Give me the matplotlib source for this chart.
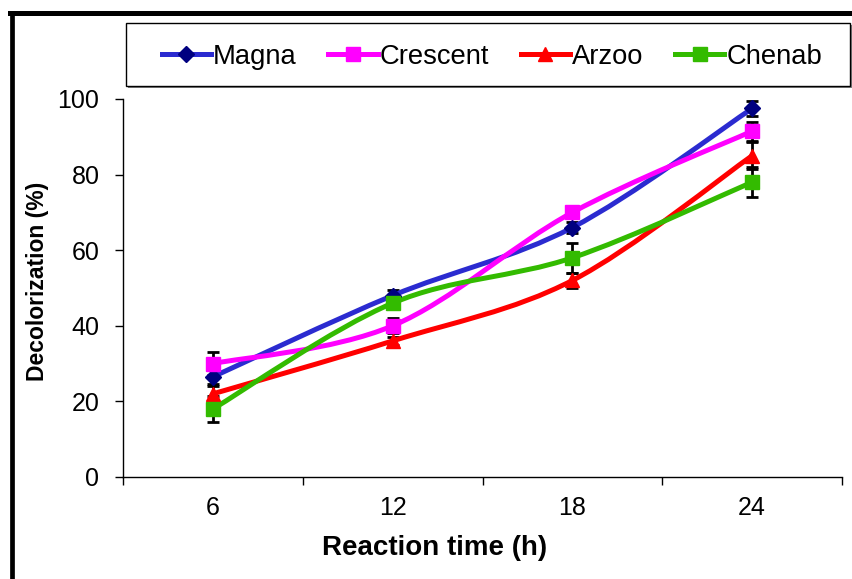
import matplotlib
matplotlib.use("Agg")
import matplotlib.pyplot as plt
from matplotlib.path import Path
from matplotlib.patches import PathPatch, Rectangle
from matplotlib.lines import Line2D
import numpy as np

plt.rcParams['font.family'] = ['Liberation Sans', 'DejaVu Sans']

categories = ["6", "12", "18", "24"]
series_names = ["Magna", "Crescent", "Arzoo", "Chenab"]
magna = [26.5, 48.0, 66.0, 97.5]
crescent = [30.0, 40.0, 70.0, 91.5]
arzoo = [22.0, 36.0, 52.0, 85.0]
chenab = [18.0, 46.0, 58.0, 78.0]
magna_err = [2.0, 1.5, 1.5, 2.0]
crescent_err = [3.0, 2.0, 1.0, 2.5]
arzoo_err = [2.0, 1.0, 2.0, 3.5]
chenab_err = [3.5, 1.5, 4.0, 4.0]
yticks = [0, 20, 40, 60, 80, 100]

line_colors = ["#2B2BD0", "#FF00FF", "#FF0000", "#33BB00"]
marker_colors = ["#000080", "#FF00FF", "#FF0000", "#33BB00"]
markers = ["D", "s", "^", "s"]
msizes = [8, 9.5, 10, 9.5]

W, H = 852, 579
fig = plt.figure(figsize=(W/100, H/100), dpi=100)
ax = fig.add_axes([123/W, 1-477/H, (842-123)/W, (477-99)/H])

x = np.arange(1, len(categories) + 1)

def smooth_path(xs, ys, t=0.5/3):
    verts = [(xs[0], ys[0])]
    codes = [Path.MOVETO]
    n = len(xs)
    for i in range(n - 1):
        p0 = (xs[max(i-1, 0)], ys[max(i-1, 0)])
        p1 = (xs[i], ys[i])
        p2 = (xs[i+1], ys[i+1])
        p3 = (xs[min(i+2, n-1)], ys[min(i+2, n-1)])
        c1 = (p1[0] + (p2[0]-p0[0])*t, p1[1] + (p2[1]-p0[1])*t)
        c2 = (p2[0] - (p3[0]-p1[0])*t, p2[1] - (p3[1]-p1[1])*t)
        verts += [c1, c2, p2]
        codes += [Path.CURVE4]*3
    return Path(verts, codes)

data = [magna, crescent, arzoo, chenab]
errs = [magna_err, crescent_err, arzoo_err, chenab_err]

for vals, err in zip(data, errs):
    ax.errorbar(x, vals, yerr=err, fmt='none', ecolor='black', elinewidth=2,
                capsize=4.5, capthick=2, zorder=2)

for vals, lc, mc, mk, ms in zip(data, line_colors, marker_colors, markers, msizes):
    ax.add_patch(PathPatch(smooth_path(x, vals), facecolor='none', edgecolor=lc,
                           lw=3.6, zorder=3, capstyle='round'))
    ax.plot(x, vals, linestyle='none', marker=mk, markersize=ms, color=mc,
            markeredgecolor=mc, zorder=4)

ax.set_xlim(0.5, 4.5)
ax.set_ylim(0, 100)
ax.set_xticks(np.arange(0.5, 4.6, 1.0))
ax.set_xticklabels([])
ax.set_xticks(x, minor=True)
ax.set_xticklabels(categories, minor=True)
ax.tick_params(axis='x', which='major', direction='out', length=6, width=1)
ax.tick_params(axis='x', which='minor', length=0, pad=13.5, labelsize=18)
ax.set_yticks(yticks)
ax.tick_params(axis='y', direction='out', length=6, width=1, labelsize=18, pad=11)
for s in ['top', 'right']:
    ax.spines[s].set_visible(False)
for s in ['left', 'bottom']:
    ax.spines[s].set_linewidth(1)

fig.text(435/W, 1-555/H, "Reaction time (h)", fontsize=20, fontweight='bold',
         ha='center', va='baseline')
fig.text(44/W, 1-281/H, "Decolorization (%)", fontsize=16.5, fontweight='bold',
         ha='center', va='baseline', rotation=90, rotation_mode='anchor')

# legend frame with shadow
fig.add_artist(Rectangle((128/W, 1-88/H), (850-126)/W, (86-23)/H,
                         transform=fig.transFigure, facecolor='#808080',
                         edgecolor='none', zorder=5))
fig.add_artist(Rectangle((126/W, 1-86/H), (850-126)/W, (86-23)/H,
                         transform=fig.transFigure, facecolor='white',
                         edgecolor='black', lw=1, zorder=6))

handles = [Line2D([0], [0], color=lc, lw=3.6, marker=mk, markersize=ms,
                  markerfacecolor=mc, markeredgecolor=mc)
           for lc, mc, mk, ms in zip(line_colors, marker_colors, markers, msizes)]
leg = fig.legend(handles, series_names, loc='center',
                 bbox_to_anchor=(492/W, 1-57/H),
                 ncol=4, fontsize=19.7, frameon=False,
                 handlelength=1.8, handletextpad=0.08, columnspacing=1.15,
                 borderaxespad=0, borderpad=0)
leg.set_zorder(7)

# outer frame (top and left visible)
fig.add_artist(Line2D([11.5/W, 11.5/W], [0, 1-12.5/H], color='black',
                      lw=3.4, transform=fig.transFigure))
fig.add_artist(Line2D([10/W, 1], [1-12.5/H, 1-12.5/H], color='black',
                      lw=3.6, transform=fig.transFigure))

fig.savefig("out.png", dpi=100)
